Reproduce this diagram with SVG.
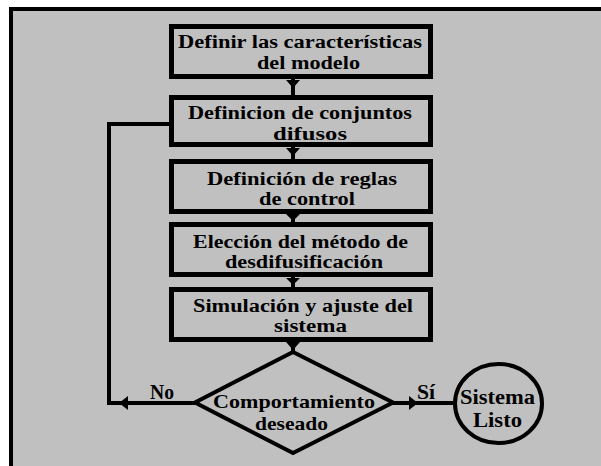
<svg xmlns="http://www.w3.org/2000/svg" width="601" height="466" viewBox="0 0 601 466">
<style>
.box{fill:none;stroke:#000;stroke-width:5}
.ln{fill:none;stroke:#000;stroke-width:4}
.ah{fill:#000;stroke:none}
text{font-family:"Liberation Serif","DejaVu Serif",serif;font-weight:bold;fill:#000;text-anchor:middle}
.t{font-size:18px}
.d{font-size:19px}
.c{font-size:20px}
</style>
<rect x="0" y="0" width="601" height="466" fill="#fff"/>
<rect x="11" y="9" width="700" height="600" fill="#c0c0c0" stroke="#000" stroke-width="4"/>
<g id="connectors">
<line class="ln" x1="293" y1="79" x2="293" y2="95"/>
<polygon class="ah" points="286,80 300,80 293,88"/>
<line class="ln" x1="293" y1="147" x2="293" y2="159"/>
<polygon class="ah" points="286,148 300,148 293,156"/>
<line class="ln" x1="293" y1="214" x2="293" y2="222"/>
<polygon class="ah" points="286,214 300,214 293,221"/>
<line class="ln" x1="293" y1="277" x2="293" y2="287"/>
<polygon class="ah" points="286,278 300,278 293,285"/>
<line class="ln" x1="293" y1="342" x2="293" y2="352"/>
<polygon class="ah" points="286,342 300,342 293,350"/>
<polyline class="ln" points="195,403 109,403 109,124 169,124"/>
<polygon class="ah" points="119,403 128,396 128,410"/>
<line class="ln" x1="393" y1="403" x2="453" y2="403"/>
<polygon class="ah" points="418,403 409,396 409,410"/>
<text class="c" x="162" y="399" textLength="24" lengthAdjust="spacingAndGlyphs">No</text>
<text class="c" x="426" y="399" textLength="18" lengthAdjust="spacingAndGlyphs">Sí</text>
</g>
<g id="n1">
<rect class="box" x="171.5" y="26.5" width="259" height="50"/>
<text class="t" x="300" y="48" textLength="244" lengthAdjust="spacingAndGlyphs">Definir las características</text>
<text class="t" x="308.5" y="69" textLength="103" lengthAdjust="spacingAndGlyphs">del modelo</text>
</g>
<g id="n2">
<rect class="box" x="171.5" y="97.5" width="259" height="47"/>
<text class="t" x="300" y="119" textLength="224" lengthAdjust="spacingAndGlyphs">Definicion de conjuntos</text>
<text class="t" x="310" y="140" textLength="74" lengthAdjust="spacingAndGlyphs">difusos</text>
</g>
<g id="n3">
<rect class="box" x="171.5" y="161.5" width="259" height="50"/>
<text class="t" x="302" y="185" textLength="190" lengthAdjust="spacingAndGlyphs">Definición de reglas</text>
<text class="t" x="307" y="205" textLength="96" lengthAdjust="spacingAndGlyphs">de control</text>
</g>
<g id="n4">
<rect class="box" x="171.5" y="224.5" width="259" height="50"/>
<text class="t" x="300.5" y="248" textLength="215" lengthAdjust="spacingAndGlyphs">Elección del método de</text>
<text class="t" x="304" y="268" textLength="158" lengthAdjust="spacingAndGlyphs">desdifusificación</text>
</g>
<g id="n5">
<rect class="box" x="171.5" y="289.5" width="259" height="50"/>
<text class="t" x="303" y="312" textLength="220" lengthAdjust="spacingAndGlyphs">Simulación y ajuste del</text>
<text class="t" x="310.5" y="332" textLength="73" lengthAdjust="spacingAndGlyphs">sistema</text>
</g>
<g id="n6">
<polygon class="ln" points="293,352 393,402.5 293,453 195,402.5"/>
<text class="d" x="294" y="408" textLength="162" lengthAdjust="spacingAndGlyphs">Comportamiento</text>
<text class="d" x="291.5" y="430" textLength="73" lengthAdjust="spacingAndGlyphs">deseado</text>
</g>
<g id="n7">
<ellipse class="ln" cx="498.5" cy="403.5" rx="43.5" ry="39.5"/>
<text class="c" x="497.5" y="404" textLength="75" lengthAdjust="spacingAndGlyphs">Sistema</text>
<text class="c" x="497.5" y="427" textLength="49" lengthAdjust="spacingAndGlyphs">Listo</text>
</g>
</svg>
